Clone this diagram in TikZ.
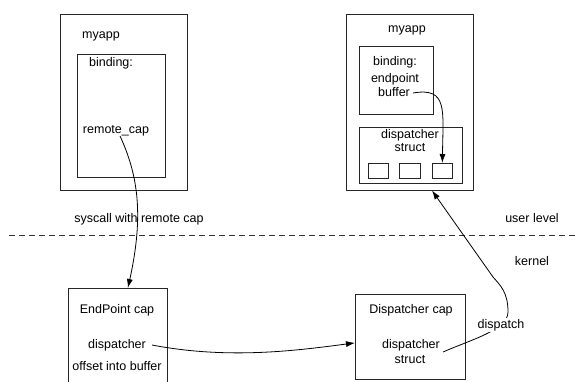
\documentclass[tikz,border=0pt]{standalone}
\usepackage{fontspec}
\setmainfont{Liberation Sans}
\usetikzlibrary{arrows.meta}
\begin{document}
\begin{tikzpicture}[x=1pt,y=-1pt,
  box/.style={draw=black!85, line width=0.8pt, inner sep=0pt, anchor=north west},
  lbl/.style={inner sep=0pt, text height=9pt, text depth=2.5pt, font=\fontsize{12.5}{14}\selectfont},
  conn/.style={line width=0.8pt, black, -{Latex[length=9pt,width=6pt]}},
  sep/.style={line width=0.8pt, black!80, dash pattern=on 6pt off 4pt},
]
\useasboundingbox (0,0) rectangle (578,381);
\clip (0,0) rectangle (578,381);

% left application
\node[box, minimum width=127pt, minimum height=176pt] (lmy) at (60,14) {};
\node[box, minimum width=88pt, minimum height=123pt] (lbind) at (77,54) {};
\node[lbl] (lmyt) at (101,35) {myapp};
\node[lbl] (lbt) at (111,63) {binding:};
\node[lbl] (rcap) at (116,130) {remote\_cap};

% right application
\node[box, minimum width=127pt, minimum height=176pt] (rmy) at (346,14) {};
\node[box, minimum width=74pt, minimum height=68pt] (rbind) at (359,46) {};
\node[box, minimum width=103pt, minimum height=56pt] (rds) at (359,127) {};
\node[box, minimum width=20pt, minimum height=15pt] (sb1) at (368,163) {};
\node[box, minimum width=21pt, minimum height=15pt] (sb2) at (399,163) {};
\node[box, minimum width=20pt, minimum height=15pt] (sb3) at (432,163) {};
\node[lbl] (rmyt) at (407,29) {myapp};
\node[lbl] (rbt) at (395,62) {binding:};
\node[lbl] (rbe) at (395,79) {endpoint};
\node[lbl] (buf) at (394,93) {buffer};
\node[lbl] (rdst1) at (410,135) {dispatcher};
\node[lbl] (rdst2) at (410,148) {struct};

% separator
\coordinate (sepL) at (9,235);
\coordinate (sepR) at (578,235);
\draw[sep] (sepL) -- (sepR);
\node[lbl] (syscall) at (139,219) {syscall with remote cap};
\node[lbl] (user) at (532,219) {user level};
\node[lbl] (kern) at (532,262) {kernel};

% kernel objects
\node[box, minimum width=99pt, minimum height=100pt] (ep) at (68,288) {};
\node[lbl] (ept) at (117,310) {EndPoint cap};
\node[lbl] (epd) at (117,345) {dispatcher};
\node[lbl] (epo) at (117,367) {offset into buffer};

\node[box, minimum width=110pt, minimum height=85pt] (dc) at (355,294) {};
\node[lbl] (dct) at (411,310) {Dispatcher cap};
\node[lbl] (dcs1) at (411,345) {dispatcher};
\node[lbl] (dcs2) at (410,360) {struct};

% connectors
\draw[conn] ([xshift=4pt]rcap.south) .. controls (138,175) and (144,215) .. ([xshift=10pt]ep.north);
\draw[conn] ([xshift=3pt]buf.east) .. controls (448,87) and (443,110) .. (sb3.north);
\draw[conn] ([xshift=6pt]epd.east) .. controls (230,360) and (300,350) .. ([yshift=-6pt]dc.west);
\coordinate (dtip) at (432,190.5);
\draw[conn] ([xshift=3pt,yshift=-7pt]dcs1.east) .. controls (470,340) and (508,330) .. (508,312)
   .. controls (508,292) and (500,285) .. (493,277) -- (dtip);
\node[lbl, fill=white, inner sep=1pt] (disp) at (501,325) {dispatch};
\end{tikzpicture}
\end{document}
